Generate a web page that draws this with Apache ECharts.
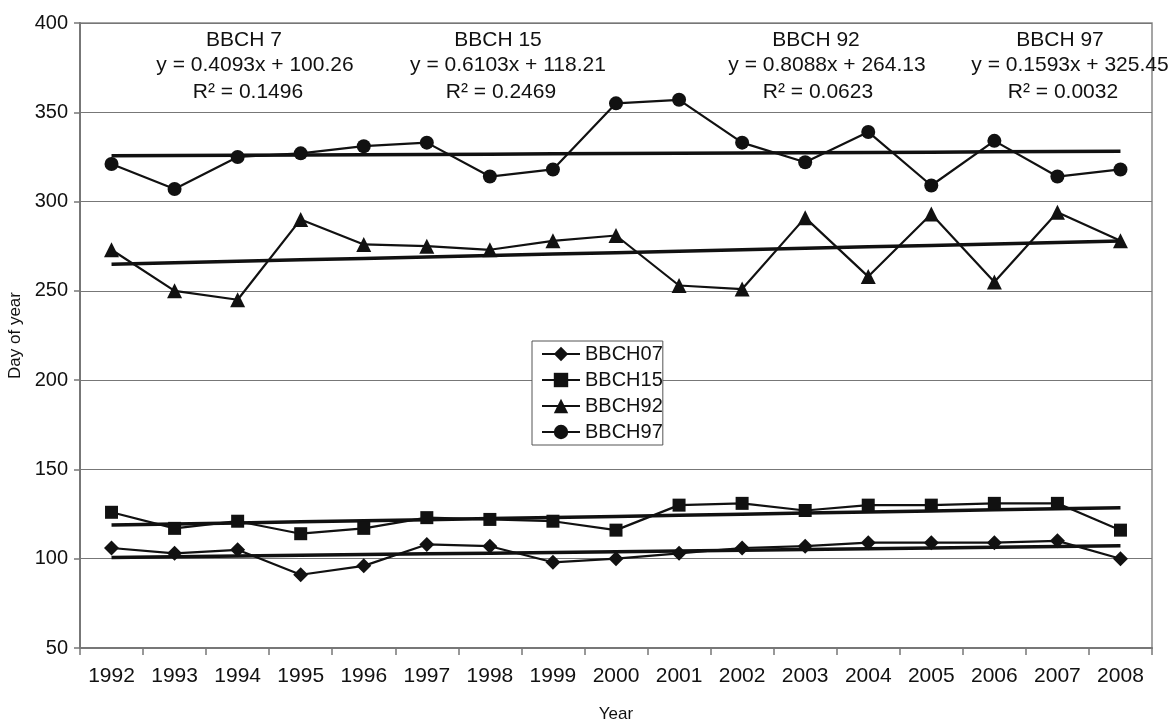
<!DOCTYPE html>
<html>
<head>
<meta charset="utf-8">
<script src="https://cdn.jsdelivr.net/npm/echarts@6/dist/echarts.min.js"></script>
<style>
  html, body { margin: 0; padding: 0; background: #fff; }
  #chart { width: 1174px; height: 722px; }
</style>
</head>
<body>
<div id="chart"></div>
<script>
// Years of observation
const years = ['1992','1993','1994','1995','1996','1997','1998','1999','2000',
               '2001','2002','2003','2004','2005','2006','2007','2008'];

// Day of year reached for each BBCH stage
const bbch07 = [106, 103, 105, 91, 96, 108, 107, 98, 100, 103, 106, 107, 109, 109, 109, 110, 100];
const bbch15 = [126, 117, 121, 114, 117, 123, 122, 121, 116, 130, 131, 127, 130, 130, 131, 131, 116];
const bbch92 = [273, 250, 245, 290, 276, 275, 273, 278, 281, 253, 251, 291, 258, 293, 255, 294, 278];
const bbch97 = [321, 307, 325, 327, 331, 333, 314, 318, 355, 357, 333, 322, 339, 309, 334, 314, 318];

// Linear trend coefficients (x = 1 for the first year)
const trendSlope     = [0.4093, 0.6103, 0.8088, 0.1593];
const trendIntercept = [100.26, 118.21, 264.13, 325.45];
const trendR2        = ['0.1496', '0.2469', '0.0623', '0.0032'];
const trendTitles    = ['BBCH 7', 'BBCH 15', 'BBCH 92', 'BBCH 97'];

const seriesNames   = ['BBCH07', 'BBCH15', 'BBCH92', 'BBCH97'];
const seriesData    = [bbch07, bbch15, bbch92, bbch97];
const seriesSymbols = ['diamond', 'rect', 'triangle', 'circle'];
const symbolSizes   = [15, 13, 15, 14];

// Y-axis ticks
const yMin = 50, yMax = 400, yStep = 50;

const ink = '#111';
const font = '"Liberation Sans", Arial, sans-serif';

function trendLine(i) {
  return years.map((_, k) => +(trendSlope[i] * (k + 1) + trendIntercept[i]).toFixed(3));
}

const series = [];
seriesData.forEach((d, i) => {
  series.push({
    name: seriesNames[i],
    type: 'line',
    data: d,
    symbol: seriesSymbols[i],
    symbolSize: symbolSizes[i],
    lineStyle: { color: ink, width: 2.2 },
    itemStyle: { color: ink },
    z: 3,
    animation: false
  });
});
seriesData.forEach((d, i) => {
  series.push({
    name: 'trend' + i,
    type: 'line',
    data: trendLine(i),
    symbol: 'none',
    lineStyle: { color: ink, width: 3.5 },
    z: 2,
    animation: false
  });
});

// Trend equation labels: one block of three centred lines per stage
const labelX = [[244, 255, 248], [498, 508, 501], [816, 827, 818], [1060, 1070, 1063]];
const labelY = [40, 65, 92];
const graphics = [];
trendTitles.forEach((t, i) => {
  const eq = 'y = ' + trendSlope[i].toFixed(4) + 'x + ' + trendIntercept[i].toFixed(2);
  const lines = [t, eq, 'R² = ' + trendR2[i]];
  lines.forEach((txt, j) => {
    graphics.push({
      type: 'text',
      x: labelX[i][j],
      y: labelY[j],
      style: {
        text: txt,
        fill: ink,
        font: '21px ' + font,
        textAlign: 'center',
        textVerticalAlign: 'middle'
      },
      z: 10
    });
  });
});

const chart = echarts.init(document.getElementById('chart'), null, { renderer: 'canvas' });
chart.setOption({
  backgroundColor: '#fff',
  animation: false,
  grid: {
    left: 80, right: 22, top: 23, bottom: 74,
    outerBoundsMode: 'none',
    show: true, borderColor: '#888', borderWidth: 1.5,
    containLabel: false
  },
  legend: {
    data: seriesNames,
    orient: 'vertical',
    left: 532, top: 341,
    padding: [3, 0, 3, 9],
    itemGap: 6,
    itemWidth: 38,
    itemHeight: 18,
    backgroundColor: '#fff',
    borderColor: '#555',
    borderWidth: 1,
    textStyle: { color: ink, fontSize: 20, fontFamily: font, padding: [0, 0, 0, 0] }
  },
  xAxis: {
    type: 'category',
    data: years,
    boundaryGap: true,
    name: 'Year',
    nameLocation: 'middle',
    nameGap: 58,
    nameTextStyle: { color: ink, fontSize: 17, fontFamily: font },
    axisLine: { lineStyle: { color: '#777', width: 2 } },
    axisTick: { show: true, length: 7, interval: 0, lineStyle: { color: '#777', width: 1.5 } },
    axisLabel: { color: ink, fontSize: 21, fontFamily: font, margin: 18, interval: 0 },
    splitLine: { show: false }
  },
  yAxis: {
    type: 'value',
    min: yMin, max: yMax, interval: yStep,
    name: 'Day of year',
    nameLocation: 'middle',
    nameGap: 51,
    nameRotate: 90,
    nameTextStyle: { color: ink, fontSize: 17, fontFamily: font },
    axisLine: { show: true, lineStyle: { color: '#777', width: 2 } },
    axisTick: { show: true, length: 6, lineStyle: { color: '#777', width: 1.5 } },
    axisLabel: { color: ink, fontSize: 20, fontFamily: font, margin: 12 },
    splitLine: { show: true, lineStyle: { color: '#777', width: 1 } }
  },
  series: series,
  graphic: graphics
});
</script>
</body>
</html>
